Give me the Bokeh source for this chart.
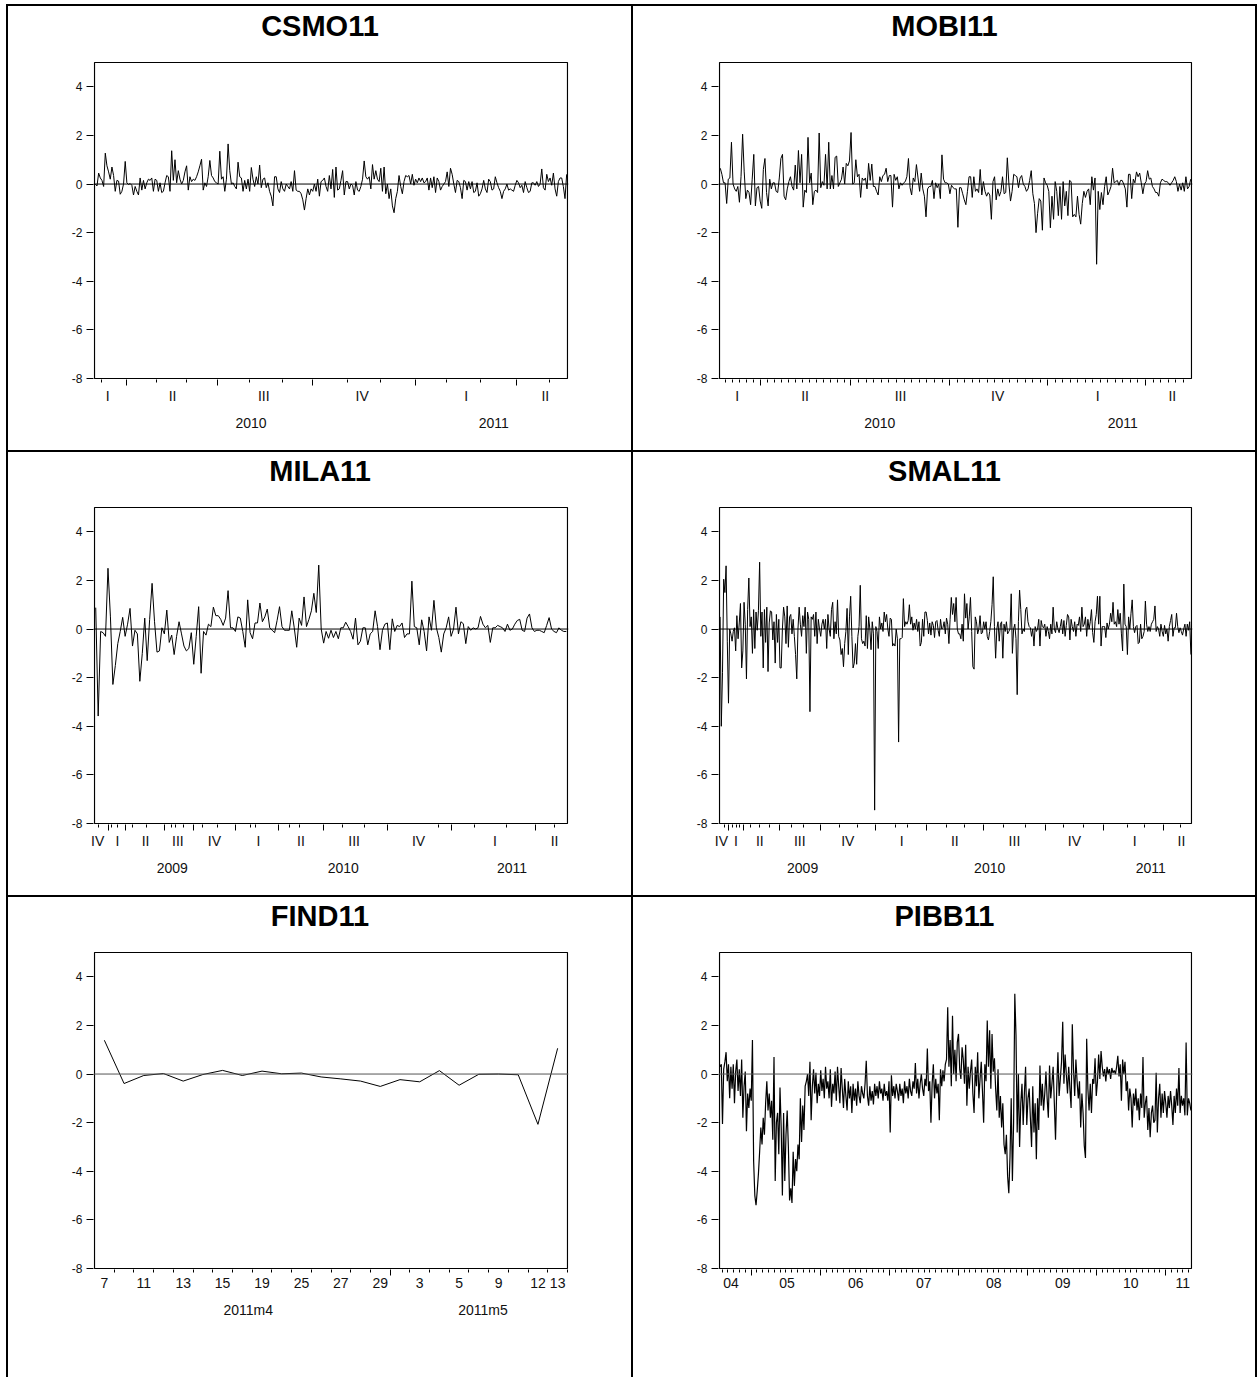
import numpy as np
from bokeh.plotting import figure
from bokeh.models import Range1d, FixedTicker, LinearAxis, Span, Spacer
from bokeh.layouts import row, column
from bokeh.core.properties import value
from bokeh.embed import file_html
from bokeh.resources import INLINE

FONT = "Liberation Sans"

# ---------------- data ----------------
csmo_values = [0.0, -0.08, 0.45, 0.25, 0.15, -0.1, 1.27, 0.75, 0.5, 0.2, 0.7, 0.35, -0.3, 0.15, 0.12, -0.42, -0.3, 0.0, 0.93, 0.05,
 -0.02, 0.02, -0.05, -0.45, -0.1, -0.3, -0.45, 0.25, -0.25, 0.15, -0.2, 0.05, 0.2, 0.15, 0.25, -0.3, 0.2, 0.15, -0.3, 0.05,
 -0.35, -0.3, 0.05, 0.35, 0.3, -0.3, 1.37, 0.15, 1.0, 0.05, 0.55, 0.2, 0.0, 0.15, 0.5, 0.75, -0.25, 0.3, 0.1, 0.2,
 0.15, 0.3, 0.5, 0.75, 1.02, -0.25, 0.05, -0.1, 0.3, 0.97, 0.35, 0.25, 0.1, 0.05, 0.0, 1.35, 0.2, 0.3, -0.3, 0.2,
 1.65, 0.55, 0.0, 0.05, -0.1, -0.2, 0.9, 0.3, 0.25, -0.3, 0.15, -0.2, 0.2, -0.3, 0.68, 0.2, -0.1, 0.3, 0.0, 0.78,
 -0.15, 0.2, 0.25, -0.15, 0.05, -0.3, -0.5, -0.9, 0.3, 0.3, -0.2, -0.35, 0.1, -0.2, -0.3, 0.0, -0.1, -0.2, 0.1, -0.3,
 0.55, -0.25, -0.3, -0.3, -0.4, -0.65, -1.07, -0.6, -0.2, -0.45, -0.2, -0.3, 0.0, -0.3, 0.2, -0.5, 0.1, 0.15, 0.25, -0.1,
 -0.3, 0.35, -0.2, 0.6, -0.55, 0.7, -0.25, -0.2, 0.15, 0.55, -0.45, 0.1, 0.1, -0.2, 0.0, -0.05, -0.45, 0.1, -0.25, -0.3,
 -0.1, 0.2, 0.95, 0.3, 0.2, 0.3, -0.2, 0.8, 0.2, 0.55, 0.2, 0.1, 0.65, -0.3, 0.7, -0.4, 0.0, -0.6, -0.2, -0.9,
 -1.18, -0.6, -0.3, 0.35, -0.1, -0.4, 0.1, 0.35, 0.3, 0.35, 0.0, 0.4, -0.05, 0.2, 0.05, 0.25, 0.1, 0.25, 0.05, 0.1,
 0.25, -0.25, 0.25, -0.15, 0.3, -0.35, 0.25, 0.1, -0.25, -0.1, 0.0, 0.1, 0.5, -0.1, 0.65, 0.4, 0.0, -0.35, 0.15, 0.1,
 -0.15, -0.6, 0.15, 0.1, -0.25, 0.1, -0.2, 0.1, -0.35, -0.3, 0.05, -0.5, -0.4, -0.2, 0.15, -0.2, -0.35, 0.2, 0.1, -0.25,
 -0.2, 0.3, 0.05, -0.15, -0.3, -0.6, -0.3, -0.2, 0.0, -0.25, -0.2, -0.25, -0.3, -0.05, 0.15, 0.05, -0.15, -0.05, -0.35, 0.1,
 -0.15, -0.35, -0.3, 0.05, 0.05, -0.05, 0.1, -0.1, 0.0, 0.62, -0.15, -0.25, 0.4, 0.1, 0.25, -0.05, 0.45, -0.2, -0.5, 0.1,
 0.25, 0.25, -0.1, -0.6, 0.4]

mobi_values = [0.65, 0.4, 0.05, 0.05, -0.8, 0.2, 0.25, 1.72, 0.0, -0.2, -0.3, -0.1, -0.75, 0.3, 2.05, 0.5, -0.6, -0.25, -0.35, -0.85,
 0.2, 1.22, -0.9, -0.15, -0.1, -0.7, -1.0, 0.6, 1.05, -0.35, -0.9, 0.2, -0.2, 0.05, 0.05, -0.3, -0.35, 0.25, 1.05, 1.22,
 -0.5, -0.65, -0.2, 0.1, 0.3, -0.1, -0.25, 0.78, -0.2, 1.38, 0.05, 1.22, -0.95, -0.25, -0.35, 1.92, 0.05, 0.45, -0.85, -0.3,
 -0.25, -0.35, 2.1, -0.15, 0.1, -0.05, 1.22, -0.2, 1.72, -0.2, 0.35, -0.2, 1.1, 1.15, -0.1, 0.05, 0.2, 0.7, 0.0, 0.85,
 0.75, 0.95, 2.12, 0.0, 0.05, 1.0, 0.3, 0.4, -0.55, 0.25, 0.15, 0.25, -0.2, 0.85, 0.15, 0.82, -0.1, -0.1, -0.3, -0.45,
 0.3, 0.1, 0.35, 0.4, 0.65, 0.1, 0.35, 0.35, -0.95, 0.4, 0.15, 0.3, -0.2, 0.05, -0.05, 0.05, 0.1, 0.3, 1.05, -0.15,
 -0.45, 0.25, 0.1, 0.8, 0.25, -0.3, 0.45, -0.2, -0.5, -1.35, -0.2, -0.1, -0.1, 0.15, -0.6, 0.05, -0.15, 0.0, -0.6, 1.2,
 0.2, 0.05, 0.05, 0.0, -0.4, -0.05, -0.15, -0.2, -0.2, -1.78, -0.15, -0.15, -0.4, -0.65, -0.85, -0.3, 0.3, 0.3, -0.55, 0.3,
 -0.3, -0.2, -0.35, 0.6, -0.45, 0.1, -0.3, -0.5, -0.35, -0.45, -1.45, 0.1, 0.3, -0.65, -0.2, -0.5, -0.3, 0.3, -0.4, -0.35,
 1.08, 0.0, -0.7, -0.3, 0.4, 0.35, 0.3, -0.15, 0.25, 0.35, 0.0, -0.1, -0.3, -0.2, 0.15, 0.55, -0.4, -0.8, -2.0, -1.2,
 -0.6, -0.7, -1.9, 0.25, 0.05, -0.05, -0.3, -1.8, -0.5, -1.45, 0.1, -0.3, -1.3, -0.1, -1.45, 0.1, -0.9, -0.3, -1.3, 0.15,
 0.1, -1.35, -1.25, -1.35, -0.5, -1.25, -1.65, -0.8, -0.3, -0.55, -0.3, -0.2, -0.85, 0.3, -0.25, 0.25, -3.3, -0.3, -1.05, -0.35,
 -0.85, -0.1, 0.3, -0.45, -0.3, -0.1, 0.65, 0.05, 0.1, 0.15, -0.05, 0.15, 0.15, 0.0, -0.2, -0.95, 0.4, 0.4, -0.6, 0.2,
 0.05, 0.5, 0.3, 0.45, 0.05, -0.4, 0.0, 0.1, 0.55, 0.2, 0.25, -0.1, -0.2, -0.35, -0.35, -0.5, 0.05, 0.2, 0.15, 0.1,
 0.1, 0.05, -0.05, 0.05, 0.15, 0.3, 0.1, -0.3, 0.0, -0.25, 0.05, -0.3, 0.3, -0.2, -0.1, 0.2]

mila_values = [0.88, -3.58, -0.1, -0.15, -0.3, 2.5, 0.5, -2.28, -1.5, -0.6, -0.1, 0.48, -0.3, 0.2, 0.85, -0.7, -0.05, -0.2, -2.15, -1.0,
 0.45, -1.3, 0.4, 1.88, 0.3, -0.95, -0.9, 0.05, -0.2, 0.78, -0.55, -0.25, -1.05, -0.3, 0.3, -0.2, -0.7, -0.9, -0.8, -0.15,
 -1.45, -0.3, 0.92, -1.82, -0.1, -0.25, 0.2, 0.1, 0.9, 0.55, 0.55, 0.4, 0.15, 0.45, 1.58, 0.05, 0.05, -0.1, 0.5, 0.45,
 -0.1, -0.75, 1.2, -0.15, -0.4, 0.25, 0.25, 1.07, 0.3, 0.5, 0.82, 0.05, -0.05, -0.15, 0.35, 0.92, 0.1, -0.05, -0.05, -0.05,
 0.75, 0.05, -0.75, 0.45, 0.15, 1.32, 0.1, 0.4, 0.75, 1.47, 0.68, 2.63, 0.0, -0.58, -0.1, -0.38, -0.05, -0.35, -0.1, -0.4,
 0.05, 0.05, 0.28, 0.1, -0.1, -0.42, 0.45, -0.65, -0.5, 0.05, 0.05, -0.65, -0.2, -0.1, 0.75, 0.1, -0.85, -0.05, 0.2, 0.25,
 -0.85, 0.42, -0.1, 0.15, 0.1, 0.25, -0.35, -0.2, -0.2, 1.97, 0.1, 0.05, -0.65, 0.38, -0.1, -0.9, 0.5, -0.05, 1.18, 0.05,
 -0.35, -0.95, -0.2, 0.05, 0.5, -0.3, 0.0, 0.9, -0.2, 0.3, 0.22, -0.6, 0.1, -0.05, 0.05, 0.0, 0.05, 0.52, 0.2, 0.05,
 0.15, -0.55, 0.05, 0.05, 0.15, 0.1, 0.05, -0.1, 0.2, -0.05, 0.0, 0.2, 0.35, 0.4, -0.05, -0.1, 0.45, 0.62, 0.05, -0.1,
 -0.05, -0.05, -0.1, -0.15, 0.15, 0.47, 0.0, -0.1, -0.15, 0.05, -0.05, -0.1, -0.1]

smal_values = [0.5, -4.0, -1.8, 2.05, 1.5, 2.6, -0.5, -3.05, 0.0, -0.2, -0.5, -0.1, 0.05, -0.9, 0.55, -0.4, 0.25, 1.05, -1.6, -0.9,
 1.1, 0.2, -2.05, 0.8, 2.1, 0.1, 0.5, -1.0, 0.8, -0.8, 0.7, -0.05, 0.75, 2.75, -0.3, 0.7, -1.6, 0.8, -0.55, 0.9,
 -1.75, 0.25, 0.75, 0.7, -0.45, 0.3, -1.4, 0.6, -0.55, 0.4, -1.6, -1.6, 0.0, 0.9, 0.5, -0.6, 0.95, -0.75, 0.5, 0.6,
 -0.2, 0.4, -0.3, -1.05, -2.05, 0.0, 0.9, 0.2, -0.3, 0.55, 0.1, 0.9, -1.0, 0.7, 0.4, -3.4, 0.5, 0.4, 0.6, -0.3,
 0.7, -0.6, 0.4, 0.0, -0.3, 0.2, 0.4, 0.0, 0.4, -0.8, 0.6, 0.0, -0.3, 0.8, 1.1, -0.4, 0.3, -0.2, 1.2, -0.3,
 -0.45, -1.05, -0.8, -1.55, -0.6, -0.1, 0.85, -1.05, 0.5, 1.35, -0.3, -1.6, -1.4, -0.6, -1.45, -0.3, 0.1, 1.8, -0.4, -0.6,
 -0.5, -0.7, 0.55, -0.8, 0.5, 0.0, -0.85, 0.3, -0.2, -7.45, 0.1, -0.1, -0.8, 0.5, 0.0, 0.25, -0.1, 0.7, 0.3, 0.6,
 0.0, -0.3, 0.45, 0.4, -0.7, -0.6, -0.7, 0.0, -0.4, -4.65, -0.4, -0.4, -0.35, 1.25, 0.1, 0.3, 0.2, 0.35, 1.0, 0.2,
 0.5, -0.05, 0.25, 0.0, 0.4, -0.1, 0.3, -0.7, -0.55, 0.4, -0.3, 0.7, 0.7, 0.35, -0.2, 0.25, -0.25, 0.3, 0.15, -0.35,
 0.3, 0.35, -0.05, -0.3, 0.4, 0.0, 0.05, 0.3, -0.2, 0.45, 0.2, -0.6, 0.4, 1.3, 0.6, 1.05, 0.3, 1.3, 0.0, -0.2,
 -0.2, -0.4, 0.2, -0.5, 1.45, 0.45, 1.05, 0.0, 0.5, 1.3, -0.1, -1.55, -1.65, 0.5, 0.3, -0.2, 0.0, 0.55, -0.2, -0.15,
 0.3, 0.0, 0.3, -0.3, -0.45, -0.1, 0.3, 1.0, 2.15, 0.1, -1.2, 0.0, 0.3, -0.5, 0.2, 0.3, -1.2, 0.2, -0.1, 0.3,
 -0.2, -0.1, 0.0, 1.45, -1.0, 0.0, 0.2, -0.4, -2.7, 0.3, 1.6, 0.8, -0.2, 0.0, -0.1, 0.8, 0.9, 0.3, 0.1, 0.05,
 -0.3, 0.0, -0.7, 0.1, -0.1, 0.0, 0.4, -0.7, 0.35, 0.1, 0.05, 0.2, -0.3, 0.1, -0.1, -0.4, 0.2, -0.2, 0.9, 0.0,
 -0.15, 0.3, 0.0, -0.15, 0.1, 0.4, -0.2, 0.35, -0.3, 0.15, 0.6, 0.5, -0.45, 0.4, 0.1, -0.1, 0.3, -0.3, 0.2, 0.15,
 0.5, -0.1, 0.9, 0.1, 0.2, 0.5, -0.3, 0.4, 0.0, 0.3, 0.8, -0.15, -0.55, 0.3, 0.6, 1.35, 0.2, 1.35, -0.7, 0.1,
 0.1, 0.1, -0.35, 0.25, 0.0, 0.2, 0.65, 0.3, 1.1, 0.2, 0.3, 0.1, 0.8, 0.2, 0.65, -0.2, -0.9, 1.85, 0.2, 0.1,
 -1.05, 0.5, 0.0, 0.65, 1.2, 0.1, -0.15, 0.1, 0.15, -0.6, -0.55, 0.2, -0.4, -0.3, -0.1, 1.15, 0.2, -0.1, 0.1, -0.1,
 0.2, 0.3, 0.4, 0.95, -0.1, 0.1, 0.0, -0.3, 0.2, -0.1, -0.3, 0.15, -0.2, 0.0, -0.5, 0.1, 0.35, 0.6, -0.3, 0.05,
 0.05, 0.65, 0.1, -0.15, 0.05, -0.1, -0.25, 0.0, 0.2, -0.3, 0.2, -0.05, 0.3, -1.05]

find_values = [1.39, -0.39, -0.06, 0.02, -0.29, -0.02, 0.15, -0.06, 0.12, 0.01, 0.04, -0.12, -0.2, -0.29, -0.51, -0.23, -0.32, 0.14, -0.46, -0.01,
 0.0, -0.03, -2.07, 1.06]

pibb_values = [0.3, 0.4, -2.05, 0.2, 0.5, 0.9, -0.3, 0.4, -1.0, 0.3,
 -0.6, 0.4, -1.2, 0.1, 0.6, -0.7, 0.2, -0.9, 0.6, -1.8,
 -0.5, 0.1, -2.35, -0.8, -1.4, -0.6, -1.1, 1.4, -3.6, -5.0,
 -5.4, -4.8, -4.1, -3.2, -2.2, -2.9, -1.8, -2.5, -1.2, -0.3,
 -1.5, -0.8, -1.8, -1.1, -2.7, 0.7, -4.4, -2.0, -1.6, -3.3,
 -0.55, -2.2, -5.0, -1.6, -4.4, -2.5, -1.5, -3.0, -5.2, -4.7,
 -5.3, -3.2, -4.6, -3.5, -4.0, -2.9, -3.5, -1.0, -2.8, -1.3,
 -2.3, -0.5, -0.3, 0.0, -0.9, 0.5, -1.9, -0.5, 0.2, -0.8,
 0.05, -1.2, -0.4, -0.9, 0.15, -0.7, -0.2, -1.0, 0.3, -0.6,
 -0.3, -1.0, 0.2, -1.35, -0.4, -0.8, 0.1, -1.1, 0.3, -0.5,
 -1.2, 0.25, -0.6, -1.4, -0.2, -0.9, -1.5, -0.3, -1.0, -0.5,
 -1.6, -0.4, -1.1, -0.6, -1.3, -0.3, -0.9, -1.2, -0.5, -0.8,
 -1.0, -0.4, 0.55, -0.9, -1.3, -0.5, -1.1, -0.7, -1.25, -0.4,
 -0.9, -0.5, -1.0, -0.3, -0.8, -0.6, -1.1, -0.4, -0.9, -0.7,
 -1.1, -0.3, -2.4, -0.05, -0.9, -0.5, -1.0, -0.4, -0.7, -1.1,
 -0.4, -0.9, -0.6, -1.2, -0.3, -0.8, -0.5, -1.0, -0.2, -0.7,
 -0.9, -0.3, -0.6, 0.45, -0.8, -0.2, -1.0, -0.4, 0.0, -0.6,
 -0.9, -0.2, -0.5, 1.05, -0.7, -0.3, -2.0, -0.4, 0.4, -1.0,
 -0.2, -0.8, -0.4, -1.9, 0.2, -0.5, 0.15, -0.3, 0.4, 0.6,
 2.75, 0.3, 1.4, -0.5, 2.4, 0.0, 1.0, -0.3, 1.3, 1.65,
 0.2, -0.2, 1.1, 0.6, -0.4, 1.2, -1.3, 0.3, -0.6, 0.1,
 0.6, -0.8, -1.6, 0.3, -0.5, 0.9, -1.0, -0.2, 0.5, -0.7,
 -2.0, 0.4, -0.3, 2.2, 0.3, 1.8, -0.6, 1.65, 0.1, 0.65,
 -0.6, -1.5, 0.2, -1.8, -0.9, -2.2, -1.2, -2.9, -3.3, -2.5,
 -4.2, -4.9, -3.4, -1.0, -4.4, -2.0, 3.3, 1.6, -2.4, 0.0,
 -3.0, -1.2, -0.4, -2.1, -0.8, 0.3, -2.1, -1.0, -0.6, -1.8,
 -3.0, -0.5, -2.4, -1.2, -3.5, -1.0, -2.3, 0.35, -1.3, -0.4,
 -1.5, -0.8, 0.1, -1.0, -1.8, 0.35, -1.0, -0.4, 0.3, -1.2,
 -2.7, -0.6, 0.9, -0.9, -0.2, 0.5, 2.15, -0.4, 0.8, 0.0,
 -0.8, 0.3, -0.6, -1.4, 2.05, 0.2, -0.9, 0.6, -0.3, -1.0,
 -0.3, -2.2, -0.8, -1.6, -2.95, -3.45, 1.45, -0.6, -1.5, -0.4,
 -1.6, -0.2, -0.4, 0.65, -0.9, -0.3, 0.8, -0.2, 0.95, 0.3,
 -0.1, 0.2, -0.3, 0.3, 0.0, 0.2, -0.2, 0.25, 0.05, 0.15,
 0.0, 0.3, 0.75, -0.1, 0.4, -1.1, 0.6, 0.0, 0.5, -0.7,
 -0.3, -1.5, -0.6, -1.0, -2.2, -0.8, -1.3, -0.6, -1.5, -1.0,
 -1.9, -0.8, -1.4, 0.7, -1.8, -1.2, -0.9, -2.3, -1.4, -2.6,
 -1.6, -1.3, -2.0, -1.9, 0.05, -2.4, -1.0, -0.4, -1.8, -0.8,
 -1.6, -0.7, -1.2, -1.8, -0.9, -1.4, -0.7, -1.3, -2.1, -0.9,
 -1.6, -0.6, -1.3, 0.25, -1.6, -0.9, -1.3, -1.0, -1.7, 1.3,
 -1.7, -1.0, -1.2, -1.5]

# ---------------- x-axis tick positions (fraction of the plotted span) ----------------
csmo_major = [0.0686, 0.2610, 0.4602, 0.6780, 0.8924]
csmo_minor = [0.0153, 0.1314, 0.1941, 0.3271, 0.3966, 0.5339, 0.6042, 0.7441, 0.8161, 0.9619]
csmo_q_pos = [0.028, 0.165, 0.358, 0.566, 0.786, 0.953]
csmo_q_lab = ["I", "II", "III", "IV", "I", "II"]
csmo_y_pos = [0.331, 0.844]
csmo_y_lab = ["2010", "2011"]

mobi_major = [0.0864, 0.2786, 0.4877, 0.6952, 0.9026]
mobi_q_pos = [0.0373, 0.1812, 0.3836, 0.5893, 0.8010, 0.9593]
mobi_q_lab = ["I", "II", "III", "IV", "I", "II"]
mobi_y_pos = [0.3395, 0.8544]
mobi_y_lab = ["2010", "2011"]

mila_major = [0.0298, 0.0647, 0.149, 0.2085, 0.2979, 0.3889, 0.4834, 0.6187, 0.7557, 0.9319]
mila_minor = [0.0077, 0.0349, 0.0477, 0.0809, 0.1106, 0.1626, 0.1719, 0.1872, 0.2281, 0.2596, 0.3294,
              0.3404, 0.4128, 0.4340, 0.5251, 0.5702, 0.7277, 0.8043, 0.8706, 0.9728]
mila_q_pos = [0.0068, 0.0485, 0.1081, 0.1762, 0.2536, 0.3464, 0.4366, 0.5489, 0.6851, 0.8468, 0.9728]
mila_q_lab = ["IV", "I", "II", "III", "IV", "I", "II", "III", "IV", "I", "II"]
mila_y_pos = [0.1643, 0.526, 0.8826]
mila_y_lab = ["2009", "2010", "2011"]

smal_major = [0.0195, 0.05, 0.1262, 0.2134, 0.3311, 0.4395, 0.5597, 0.6909, 0.8137, 0.9407]
smal_minor = [0.011, 0.0279, 0.0364, 0.0432, 0.0652, 0.0855, 0.105, 0.1516, 0.1787, 0.2549, 0.293,
              0.3734, 0.3988, 0.4801, 0.519, 0.602, 0.6486, 0.729, 0.7714, 0.8645, 0.9001, 0.9763]
smal_q_pos = [0.004, 0.0347, 0.0855, 0.1702, 0.2718, 0.3861, 0.4987, 0.6249, 0.7519, 0.8798, 0.9788]
smal_q_lab = ["IV", "I", "II", "III", "IV", "I", "II", "III", "IV", "I", "II"]
smal_y_pos = [0.1761, 0.5724, 0.9136]
smal_y_lab = ["2009", "2010", "2011"]

find_day_obs = [0, 2, 4, 6, 8, 10, 12, 14, 16, 18, 20, 22, 23]
find_day_lab = ["7", "11", "13", "15", "19", "25", "27", "29", "3", "5", "9", "12", "13"]
find_month_break = 15
find_m_pos = [0.3251, 0.8213]
find_m_lab = ["2011m4", "2011m5"]

pibb_major = [0.0669, 0.2142, 0.3607, 0.5063, 0.6528, 0.7985, 0.945]
pibb_y_pos = [0.0246, 0.1431, 0.2887, 0.4327, 0.5809, 0.7274, 0.8713, 0.9814]
pibb_y_lab = ["04", "05", "06", "07", "08", "09", "10", "11"]

Y_MIN, Y_MAX = -8, 5
Y_TICKS = [-8, -6, -4, -2, 0, 2, 4]
X0, X1 = 0.0, 1.0


def subdivide(bounds, n):
    """Regular sub-ticks (weeks / months) between the period boundaries."""
    out = []
    for a, b in zip(bounds[:-1], bounds[1:]):
        out += list(np.linspace(a, b, n + 1)[1:-1])
    step = (bounds[1] - bounds[0]) / n
    t = bounds[0] - step
    while t > 0.004:
        out.append(t)
        t -= step
    step = (bounds[-1] - bounds[-2]) / n
    t = bounds[-1] + step
    while t < 0.996:
        out.append(t)
        t += step
    return [float(v) for v in out]


BOX_H = 316          # height of the boxed plot area, px
BOX_LEFT = 86        # left edge of the box inside its cell, px
TITLE_MID = 37       # vertical centre of the title above the box, px
TITLE_PX = 29


def panel(title, values, width, height, top, box_w, major, minor,
          l1_pos, l1_lab, l2_pos=None, l2_lab=None, zero_color="black", line_width=1.0):
    ppu = BOX_H / float(Y_MAX - Y_MIN)          # px per y unit
    pxx = 1.0 / box_w                           # x units per px
    frame_w = box_w + 2
    frame_h = top + BOX_H + 1
    left = BOX_LEFT - 1
    right = width - left - frame_w
    bottom = height - frame_h
    p = figure(width=width, height=height,
               x_range=Range1d(X0 - pxx, X1 + pxx),
               y_range=Range1d(Y_MIN - 1.0 / ppu, Y_MAX + top / ppu),
               output_backend="svg", toolbar_location=None,
               x_axis_location=None, y_axis_location=None,
               min_border_left=left, min_border_right=right,
               min_border_top=0, min_border_bottom=bottom)
    p.outline_line_color = None
    p.background_fill_color = "white"
    p.border_fill_color = "white"
    for g in p.grid:
        g.visible = False

    yax = LinearAxis(ticker=FixedTicker(ticks=Y_TICKS),
                     major_label_overrides={t: str(t) for t in Y_TICKS},
                     major_tick_out=7, major_tick_in=0, minor_tick_out=0, minor_tick_in=0,
                     major_label_standoff=4, major_label_text_font=FONT,
                     major_label_text_font_size="12px", major_label_text_color="#111111",
                     axis_line_color=None, major_tick_line_color="black")
    p.add_layout(yax, "left")

    tick_ax = LinearAxis(ticker=FixedTicker(ticks=major, minor_ticks=minor),
                         major_tick_out=6, major_tick_in=0, minor_tick_out=3, minor_tick_in=0,
                         major_label_text_font_size="0px", major_label_text_alpha=0,
                         major_label_standoff=0, axis_line_color=None,
                         major_tick_line_color="black", minor_tick_line_color="black")
    p.add_layout(tick_ax, "below")

    ax1 = LinearAxis(ticker=FixedTicker(ticks=l1_pos),
                     major_label_overrides=dict(zip(l1_pos, l1_lab)),
                     major_tick_out=0, major_tick_in=0, minor_tick_out=0, minor_tick_in=0,
                     axis_line_color=None, major_tick_line_color=None, minor_tick_line_color=None,
                     major_label_standoff=2, major_label_text_font=FONT,
                     major_label_text_font_size="14px", major_label_text_color="#111111")
    p.add_layout(ax1, "below")
    if l2_pos:
        ax2 = LinearAxis(ticker=FixedTicker(ticks=l2_pos),
                         major_label_overrides=dict(zip(l2_pos, l2_lab)),
                         major_tick_out=0, major_tick_in=0, minor_tick_out=0, minor_tick_in=0,
                         axis_line_color=None, major_tick_line_color=None, minor_tick_line_color=None,
                         major_label_standoff=11, major_label_text_font=FONT,
                         major_label_text_font_size="14px", major_label_text_color="#111111")
        p.add_layout(ax2, "below")

    # the boxed plot area
    p.quad(left=[X0], right=[X1], bottom=[Y_MIN], top=[Y_MAX],
           fill_color=None, line_color="black", line_width=1.2)
    p.add_layout(Span(location=0, dimension="width", line_color=zero_color, line_width=1))

    n = len(values)
    xs = [(i + 0.5) / n for i in range(n)]
    p.line(xs, values, line_color="black", line_width=line_width)

    # cell title, centred on the cell
    p.text(x=[(width / 2.0 - BOX_LEFT) / box_w], y=[Y_MAX + TITLE_MID / ppu], text=[title],
           text_align="center", text_baseline="middle",
           text_font=value(FONT), text_font_style="bold",
           text_font_size=value(f"{TITLE_PX}px"), text_color="black")
    return p


H1, H2, H3 = 444, 443, 480
WL, WR = 623, 622
LINE = 2
TOTAL_W = LINE + WL + LINE + WR + LINE

c1 = panel("CSMO11", csmo_values, WL, H1, 56, 473, csmo_major, csmo_minor,
           csmo_q_pos, csmo_q_lab, csmo_y_pos, csmo_y_lab)
c2 = panel("MOBI11", mobi_values, WR, H1, 56, 472, mobi_major, subdivide(mobi_major, 13),
           mobi_q_pos, mobi_q_lab, mobi_y_pos, mobi_y_lab)
c3 = panel("MILA11", mila_values, WL, H2, 55, 473, mila_major, mila_minor,
           mila_q_pos, mila_q_lab, mila_y_pos, mila_y_lab)
c4 = panel("SMAL11", smal_values, WR, H2, 55, 472, smal_major, smal_minor,
           smal_q_pos, smal_q_lab, smal_y_pos, smal_y_lab)

nf = len(find_values)
find_major = [find_month_break / nf]
find_minor = [k / nf for k in range(1, nf + 1) if k != find_month_break]
find_d_pos = [(k + 0.5) / nf for k in find_day_obs]
c5 = panel("FIND11", find_values, WL, H3, 55, 473, find_major, find_minor,
           find_d_pos, find_day_lab, find_m_pos, find_m_lab, zero_color="#555555", line_width=1.0)
c6 = panel("PIBB11", pibb_values, WR, H3, 55, 472, pibb_major, subdivide(pibb_major, 12),
           pibb_y_pos, pibb_y_lab, zero_color="#555555", line_width=1.2)

BLACK = {"background-color": "black"}


def vline(h):
    return Spacer(width=LINE, height=h, styles=BLACK)


def hline():
    return Spacer(width=TOTAL_W, height=LINE, styles=BLACK)


r1 = row(vline(H1), c1, vline(H1), c2, vline(H1), spacing=0)
r2 = row(vline(H2), c3, vline(H2), c4, vline(H2), spacing=0)
r3 = row(vline(H3), c5, vline(H3), c6, vline(H3), spacing=0)
page = column(hline(), r1, hline(), r2, hline(), r3, spacing=0, margin=(4, 0, 0, 6))

open("out.html", "w").write(file_html(page, INLINE))
